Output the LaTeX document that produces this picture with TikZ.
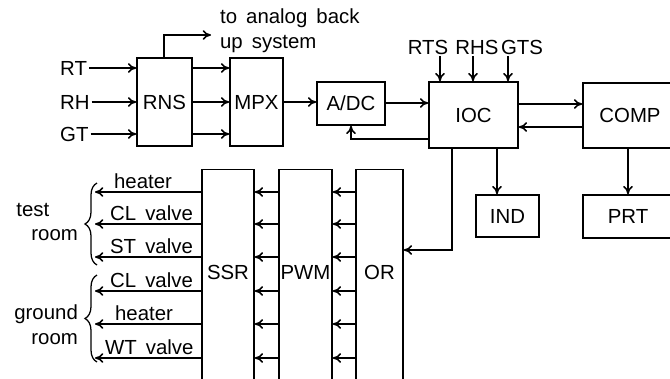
\documentclass[tikz,border=0pt]{standalone}
\usepackage{fontspec}
\setmainfont{Liberation Sans}[WordSpace=1.6]
\usetikzlibrary{arrows.meta,decorations.pathreplacing}
\newcommand{\pxu}{0.025cm}
\tikzset{
  blk/.style 2 args={draw, inner sep=0pt, minimum width=#1*\pxu, minimum height=#2*\pxu},
  tallblk/.style={draw, inner sep=0pt, anchor=north, minimum width=#1*\pxu, minimum height=240*\pxu},
  txt/.style={inner sep=1pt},
  brc/.style={decorate, decoration={brace, amplitude=0.3cm}, line width=0.9pt},
}
\begin{document}
\begin{tikzpicture}[x=0.025cm, y=-0.025cm, line width=1.05pt, >={To[length=6pt,width=7pt]},
    font=\fontsize{14.5}{17.5}\selectfont]
    \useasboundingbox (0,0) rectangle (670,378);
    \clip (0,0) rectangle (670,378);

    % upper chain
    \node[blk={55}{88}] (rns) at (164.5,102) {RNS};
    \node[blk={53}{88}] (mpx) at (256.5,102) {MPX};
    \node[blk={68}{43}] (adc) at (351,103.5) {A/DC};
    \node[blk={89}{66}] (ioc) at (473.5,115) {IOC};
    \node[blk={94}{65}] (comp) at (630,115.5) {COMP};
    \node[blk={63}{42}] (ind) at (507.5,216) {IND};
    \node[blk={90}{43}] (prt) at (628,216.5) {PRT};

    % inputs
    \node[txt, anchor=west] (rt) at (58,68) {RT};
    \node[txt, anchor=west] (rh) at (58,102) {RH};
    \node[txt, anchor=west] (gt) at (58,134) {GT};
    \foreach \n in {rt,rh,gt} {
      \draw[->] (\n.east) -- (rns.west |- \n.east);
      \draw[->] (rns.east |- \n.east) -- (mpx.west |- \n.east);
    }
    \draw[->] (mpx) -- (adc.west |- mpx);
    \draw[->] (adc.east |- 0,103) -- (ioc.west |- 0,103);
    \draw[->] (ioc.west |- 0,139) -| (adc.south);

    % back up
    \node[txt, anchor=west, align=left] (bkup) at (218,31) {to analog back\\up system};
    \coordinate (bkend) at (211,35);
    \draw[->] (rns.north -| 164,0) |- (bkend);

    % sensors
    \node[txt] (rts) at (428,47) {RTS};
    \node[txt] (rhs) at (477,47) {RHS};
    \node[txt] (gts) at (522,47) {GTS};
    \draw[->] (rts.south -| 440,0) -- (ioc.north -| 440,0);
    \draw[->] (rhs.south -| 473,0) -- (ioc.north -| 473,0);
    \draw[->] (gts.south -| 508,0) -- (ioc.north -| 508,0);

    \draw[->] (ioc.east |- 0,104) -- (comp.west |- 0,104);
    \draw[->] (comp.west |- 0,127) -- (ioc.east |- 0,127);
    \draw[->] (ioc.south -| 497,0) -- (ind.north -| 497,0);
    \draw[->] (comp.south -| prt.north) -- (prt.north);

    % output stage
    \node[tallblk=52] (ssr) at (228,169) {};
    \node[tallblk=53] (pwm) at (305.5,169) {};
    \node[tallblk=47] (or) at (379.5,169) {};
    \node[txt] (ssrt) at (228,272) {SSR};
    \node[txt] (pwmt) at (305.5,272) {PWM};
    \node[txt] (ort) at (379.5,272) {OR};
    \draw[->] (ioc.south -| 452,0) |- (or.east |- 0,250);

    \foreach \y in {192,224,257,291,324,358} {
      \draw[->] (or.west |- 0,\y) -- (pwm.east |- 0,\y);
      \draw[->] (pwm.west |- 0,\y) -- (ssr.east |- 0,\y);
      \coordinate (out\y) at (95,\y);
      \draw[->] (ssr.west |- 0,\y) -- (out\y);
    }
    \foreach \x/\y/\t in {112/192/heater, 108/224/CL valve, 108/257/ST valve,
                          108/291/CL valve, 113/324/heater, 103/358/WT valve} {
      \node[txt, anchor=base west] (o\y) at (\x,\y-4) {\t};
    }

    % rooms
    \draw[brc] (97,265) -- (97,183);
    \draw[brc] (97,362) -- (97,275);
    \node[txt, anchor=east, align=right] (test) at (80,222) {test\hspace*{1.4em}\\room};
    \node[txt, anchor=east, align=right] (ground) at (80,325) {ground\\room};
\end{tikzpicture}
\end{document}
